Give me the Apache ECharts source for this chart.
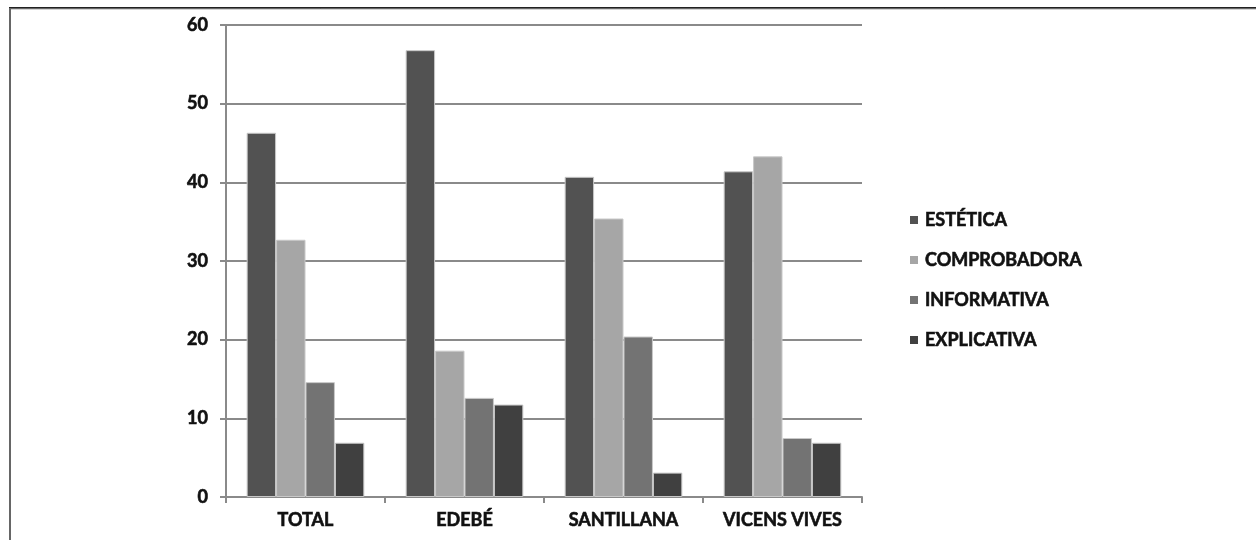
<!DOCTYPE html>
<html>
<head>
<meta charset="utf-8">
<script src="https://cdn.jsdelivr.net/npm/echarts@6/dist/echarts.min.js"></script>
<style>
html,body{margin:0;padding:0;background:#fff;}
#chart{width:1256px;height:540px;}
</style>
</head>
<body>
<div id="chart"></div>
<script>
const categories = ['TOTAL', 'EDEBÉ', 'SANTILLANA', 'VICENS VIVES'];
const seriesNames = ['ESTÉTICA', 'COMPROBADORA', 'INFORMATIVA', 'EXPLICATIVA'];
const estetica = [46.3, 56.8, 40.7, 41.4];
const comprobadora = [32.7, 18.6, 35.4, 43.3];
const informativa = [14.6, 12.6, 20.4, 7.5];
const explicativa = [6.9, 11.75, 3.1, 6.9];
const yTicks = [0, 10, 20, 30, 40, 50, 60];
const colors = ['#525252', '#a6a6a6', '#737373', '#404040'];

const values = [estetica, comprobadora, informativa, explicativa];
const font = 'Lato, "Open Sans", sans-serif';
const txt = { fontFamily: font, fontWeight: 'bold', fontSize: 18, color: '#111', textBorderColor: '#111', textBorderWidth: 0.6 };

const chart = echarts.init(document.getElementById('chart'));
chart.setOption({
  animation: false,
  backgroundColor: '#fff',
  color: colors,
  graphic: [
    { type: 'line', shape: { x1: 9, y1: 8, x2: 1256, y2: 8 }, style: { stroke: '#222', lineWidth: 2 } },
    { type: 'line', shape: { x1: 9, y1: 9, x2: 1256, y2: 9 }, style: { stroke: '#aaa', lineWidth: 1 } },
    { type: 'line', shape: { x1: 10, y1: 9, x2: 10, y2: 540 }, style: { stroke: '#666', lineWidth: 2 } }
  ],
  grid: { left: 226, right: 394, top: 25, bottom: 43 },
  legend: {
    orient: 'vertical',
    left: 905,
    top: 205,
    itemWidth: 8,
    itemHeight: 8,
    itemGap: 20,
    icon: 'rect',
    itemStyle: { borderWidth: 0 },
    textStyle: Object.assign({ lineHeight: 20, padding: [0, 0, 0, 2] }, txt),
    data: seriesNames
  },
  xAxis: {
    type: 'category',
    data: categories,
    axisLine: { lineStyle: { color: '#8a8a8a', width: 2 } },
    axisTick: { show: true, length: 6, lineStyle: { color: '#8a8a8a', width: 2 } },
    axisLabel: Object.assign({ margin: 14 }, txt),
    splitLine: { show: false }
  },
  yAxis: {
    type: 'value',
    min: yTicks[0],
    max: yTicks[yTicks.length - 1],
    interval: 10,
    axisLine: { show: true, lineStyle: { color: '#8a8a8a', width: 2 } },
    axisTick: { show: true, length: 6, lineStyle: { color: '#8a8a8a', width: 2 } },
    axisLabel: Object.assign({ margin: 18 }, txt),
    splitLine: { show: true, lineStyle: { color: '#8a8a8a', width: 2 } }
  },
  series: seriesNames.map((name, i) => ({
    name: name,
    type: 'bar',
    data: values[i],
    barGap: '0%',
    barCategoryGap: '26%',
    itemStyle: { color: colors[i], borderColor: '#c8c8c8', borderWidth: 1 }
  }))
});
</script>
</body>
</html>
